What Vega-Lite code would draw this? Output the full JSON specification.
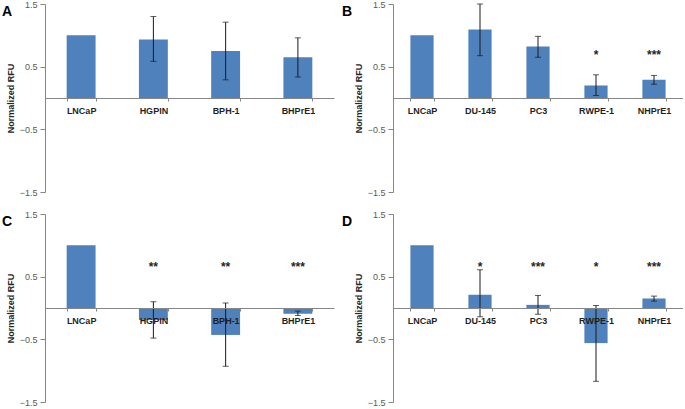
{
  "$schema": "https://vega.github.io/schema/vega-lite/v6.json",
  "padding": {"left": 2, "top": 0, "right": 0, "bottom": 0},
  "background": "white",
  "config": {
    "view": {"stroke": null},
    "font": "Liberation Sans",
    "axisY": {
      "grid": false,
      "domainColor": "#868686",
      "tickColor": "#868686",
      "tickSize": 5,
      "labelFontSize": 9,
      "labelColor": "#595959",
      "labelPadding": 3,
      "titleFontSize": 9,
      "titleFontWeight": "bold",
      "titleColor": "#262626",
      "titlePadding": 4
    },
    "axisX": {
      "offset": -94,
      "domainColor": "#868686",
      "tickColor": "#868686",
      "tickSize": 3,
      "tickBand": "extent",
      "labelAngle": 0,
      "labelFontSize": 9,
      "labelFontWeight": "bold",
      "labelColor": "#1f1f1f",
      "labelPadding": 5
    },
    "title": {
      "anchor": "start",
      "frame": "group",
      "fontSize": 14,
      "fontWeight": "bold",
      "color": "#000000",
      "baseline": "bottom",
      "offset": -19
    }
  },
  "datasets": {
    "cells": [
      {"panel": "A", "cell": "LNCaP", "value": 1.0, "lo": null, "hi": null, "sig": ""},
      {"panel": "A", "cell": "HGPIN", "value": 0.935, "lo": 0.585, "hi": 1.3, "sig": ""},
      {"panel": "A", "cell": "BPH-1", "value": 0.75, "lo": 0.29, "hi": 1.21, "sig": ""},
      {"panel": "A", "cell": "BHPrE1", "value": 0.65, "lo": 0.335, "hi": 0.96, "sig": ""},
      {"panel": "B", "cell": "LNCaP", "value": 1.0, "lo": null, "hi": null, "sig": ""},
      {"panel": "B", "cell": "DU-145", "value": 1.095, "lo": 0.675, "hi": 1.5, "sig": ""},
      {"panel": "B", "cell": "PC3", "value": 0.82, "lo": 0.65, "hi": 0.984, "sig": ""},
      {"panel": "B", "cell": "RWPE-1", "value": 0.2, "lo": 0.04, "hi": 0.37, "sig": "*"},
      {"panel": "B", "cell": "NHPrE1", "value": 0.29, "lo": 0.22, "hi": 0.36, "sig": "***"},
      {"panel": "C", "cell": "LNCaP", "value": 1.0, "lo": null, "hi": null, "sig": ""},
      {"panel": "C", "cell": "HGPIN", "value": -0.19, "lo": -0.48, "hi": 0.1, "sig": "**"},
      {"panel": "C", "cell": "BPH-1", "value": -0.43, "lo": -0.93, "hi": 0.08, "sig": "**"},
      {"panel": "C", "cell": "BHPrE1", "value": -0.09, "lo": -0.12, "hi": -0.05, "sig": "***"},
      {"panel": "D", "cell": "LNCaP", "value": 1.0, "lo": null, "hi": null, "sig": ""},
      {"panel": "D", "cell": "DU-145", "value": 0.21, "lo": -0.14, "hi": 0.61, "sig": "*"},
      {"panel": "D", "cell": "PC3", "value": 0.05, "lo": -0.1, "hi": 0.2, "sig": "***"},
      {"panel": "D", "cell": "RWPE-1", "value": -0.56, "lo": -1.17, "hi": 0.04, "sig": "*"},
      {"panel": "D", "cell": "NHPrE1", "value": 0.15, "lo": 0.11, "hi": 0.19, "sig": "***"}
    ]
  },
  "data": {"name": "cells"},
  "spacing": 13,
  "vconcat": [
    {
      "spacing": 59,
      "bounds": "flush",
      "hconcat": [
        {
          "width": 289, "height": 188,
          "title": {"text": "A", "dx": -43},
          "transform": [{"filter": "datum.panel === 'A'"}],
          "encoding": {"x": {"field": "cell", "type": "nominal", "sort": null, "title": null, "axis": {"zindex": 1}, "scale": {"paddingInner": 0.6, "paddingOuter": 0.3}}},
          "layer": [
            {"mark": {"type": "bar", "color": "#4F81BD"}, "encoding": {"y": {"field": "value", "type": "quantitative", "scale": {"domain": [-1.5, 1.5], "nice": false}, "axis": {"values": [1.5, 0.5, -0.5, -1.5], "format": ".1f", "title": "Normalized RFU"}}}},
            {"mark": {"type": "rule", "color": "#1a1a1a", "strokeWidth": 1}, "encoding": {"y": {"field": "lo", "type": "quantitative"}, "y2": {"field": "hi"}}},
            {"mark": {"type": "tick", "color": "#1a1a1a", "size": 6, "thickness": 1}, "encoding": {"y": {"field": "lo", "type": "quantitative"}}},
            {"mark": {"type": "tick", "color": "#1a1a1a", "size": 6, "thickness": 1}, "encoding": {"y": {"field": "hi", "type": "quantitative"}}}
          ]
        },
        {
          "width": 290, "height": 188,
          "title": {"text": "B", "dx": -51},
          "transform": [{"filter": "datum.panel === 'B'"}],
          "encoding": {"x": {"field": "cell", "type": "nominal", "sort": null, "title": null, "axis": {"zindex": 1}, "scale": {"paddingInner": 0.6, "paddingOuter": 0.3}}},
          "layer": [
            {"mark": {"type": "bar", "color": "#4F81BD"}, "encoding": {"y": {"field": "value", "type": "quantitative", "scale": {"domain": [-1.5, 1.5], "nice": false}, "axis": {"values": [1.5, 0.5, -0.5, -1.5], "format": ".1f", "title": "Normalized RFU"}}}},
            {"mark": {"type": "rule", "color": "#1a1a1a", "strokeWidth": 1}, "encoding": {"y": {"field": "lo", "type": "quantitative"}, "y2": {"field": "hi"}}},
            {"mark": {"type": "tick", "color": "#1a1a1a", "size": 6, "thickness": 1}, "encoding": {"y": {"field": "lo", "type": "quantitative"}}},
            {"mark": {"type": "tick", "color": "#1a1a1a", "size": 6, "thickness": 1}, "encoding": {"y": {"field": "hi", "type": "quantitative"}}},
            {"mark": {"type": "text", "fontSize": 12, "fontWeight": "bold", "color": "#262626", "baseline": "middle"}, "encoding": {"y": {"datum": 0.69, "type": "quantitative"}, "text": {"field": "sig"}}}
          ]
        }
      ]
    },
    {
      "spacing": 59,
      "bounds": "flush",
      "hconcat": [
        {
          "width": 289, "height": 188,
          "title": {"text": "C", "dx": -43},
          "transform": [{"filter": "datum.panel === 'C'"}],
          "encoding": {"x": {"field": "cell", "type": "nominal", "sort": null, "title": null, "axis": {"zindex": 1}, "scale": {"paddingInner": 0.6, "paddingOuter": 0.3}}},
          "layer": [
            {"mark": {"type": "bar", "color": "#4F81BD"}, "encoding": {"y": {"field": "value", "type": "quantitative", "scale": {"domain": [-1.5, 1.5], "nice": false}, "axis": {"values": [1.5, 0.5, -0.5, -1.5], "format": ".1f", "title": "Normalized RFU"}}}},
            {"mark": {"type": "rule", "color": "#1a1a1a", "strokeWidth": 1}, "encoding": {"y": {"field": "lo", "type": "quantitative"}, "y2": {"field": "hi"}}},
            {"mark": {"type": "tick", "color": "#1a1a1a", "size": 6, "thickness": 1}, "encoding": {"y": {"field": "lo", "type": "quantitative"}}},
            {"mark": {"type": "tick", "color": "#1a1a1a", "size": 6, "thickness": 1}, "encoding": {"y": {"field": "hi", "type": "quantitative"}}},
            {"mark": {"type": "text", "fontSize": 12, "fontWeight": "bold", "color": "#262626", "baseline": "middle"}, "encoding": {"y": {"datum": 0.66, "type": "quantitative"}, "text": {"field": "sig"}}}
          ]
        },
        {
          "width": 290, "height": 188,
          "title": {"text": "D", "dx": -51},
          "transform": [{"filter": "datum.panel === 'D'"}],
          "encoding": {"x": {"field": "cell", "type": "nominal", "sort": null, "title": null, "axis": {"zindex": 1}, "scale": {"paddingInner": 0.6, "paddingOuter": 0.3}}},
          "layer": [
            {"mark": {"type": "bar", "color": "#4F81BD"}, "encoding": {"y": {"field": "value", "type": "quantitative", "scale": {"domain": [-1.5, 1.5], "nice": false}, "axis": {"values": [1.5, 0.5, -0.5, -1.5], "format": ".1f", "title": "Normalized RFU"}}}},
            {"mark": {"type": "rule", "color": "#1a1a1a", "strokeWidth": 1}, "encoding": {"y": {"field": "lo", "type": "quantitative"}, "y2": {"field": "hi"}}},
            {"mark": {"type": "tick", "color": "#1a1a1a", "size": 6, "thickness": 1}, "encoding": {"y": {"field": "lo", "type": "quantitative"}}},
            {"mark": {"type": "tick", "color": "#1a1a1a", "size": 6, "thickness": 1}, "encoding": {"y": {"field": "hi", "type": "quantitative"}}},
            {"mark": {"type": "text", "fontSize": 12, "fontWeight": "bold", "color": "#262626", "baseline": "middle"}, "encoding": {"y": {"datum": 0.66, "type": "quantitative"}, "text": {"field": "sig"}}}
          ]
        }
      ]
    }
  ]
}
